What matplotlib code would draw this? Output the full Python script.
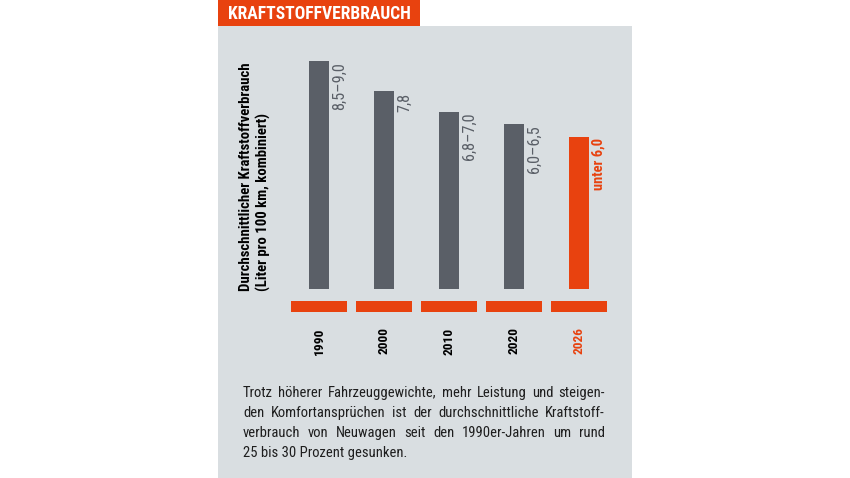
import warnings
import logging
import matplotlib
matplotlib.use("Agg")
import matplotlib.pyplot as plt
from matplotlib.patches import Rectangle

logging.getLogger("matplotlib.font_manager").setLevel(logging.ERROR)
warnings.filterwarnings("ignore")

# ---- data ----
years = ["1990", "2000", "2010", "2020", "2026"]
values = [9.0, 7.8, 7.0, 6.5, 6.0]          # upper end of each range
value_labels = ["8,5–9,0", "7,8", "6,8–7,0", "6,0–6,5", "unter 6,0"]
title = "KRAFTSTOFFVERBRAUCH"
ylabel_lines = ["Durchschnittlicher Kraftstoffverbrauch", "(Liter pro 100 km, kombiniert)"]
paragraph_lines = [
    "Trotz höherer Fahrzeuggewichte, mehr Leistung und steigen-",
    "den Komfortansprüchen ist der durchschnittliche Kraftstoff-",
    "verbrauch von Neuwagen seit den 1990er-Jahren um rund",
    "25 bis 30 Prozent gesunken.",
]

# ---- style ----
ORANGE = "#e8420f"
GRAY = "#5a5f67"
PANEL = "#d9dee1"
TEXTGRAY = "#5a5f67"
FONT = ["Roboto Condensed", "Archivo Narrow", "Liberation Sans Narrow", "DejaVu Sans"]

W, H = 850, 478
fig = plt.figure(figsize=(W / 100, H / 100), dpi=100)
fig.patch.set_facecolor("white")
renderer = fig.canvas.get_renderer()


def fx(px):
    return px / W


def fy(py):
    return 1 - py / H


def fit(t, target, rotated=False):
    """scale a text's font size so that its length matches target pixels"""
    bb = t.get_window_extent(renderer)
    cur = bb.height if rotated else bb.width
    t.set_fontsize(t.get_fontsize() * target / cur)
    return t


# panel and title box
fig.add_artist(Rectangle((fx(218), fy(478)), fx(632) - fx(218), fy(26) - fy(478),
                         transform=fig.transFigure, facecolor=PANEL, edgecolor="none", zorder=0))
fig.add_artist(Rectangle((fx(218), fy(26)), fx(420) - fx(218), fy(0) - fy(26),
                         transform=fig.transFigure, facecolor=ORANGE, edgecolor="none", zorder=1))
tt = fig.text(fx(228), fy(19), title, color="white", fontsize=12, fontweight="bold",
              family=FONT, ha="left", va="baseline", zorder=2)
fit(tt, 183)

# bars axes: baseline at y=289px, top (9.0) at y=61px; centers 319..579
left_px, right_px = 286.5, 611.5
ax = fig.add_axes([fx(left_px), fy(289), fx(right_px) - fx(left_px), (289 - 61) / H])
ax.set_xlim(-0.5, len(years) - 0.5)
ax.set_ylim(0, 9.0)
ax.axis("off")
ax.patch.set_alpha(0)

unit = (289 - 61) / 9.0  # px per unit
xs = list(range(len(years)))
colors = [GRAY] * (len(years) - 1) + [ORANGE]
ax.bar(xs, values, width=0.3, color=colors, clip_on=False, zorder=3)

# orange base segments under each bar
seg_top = -(301 - 289) / unit
seg_bot = -(312 - 289) / unit
ax.bar(xs, [seg_top - seg_bot] * len(xs), bottom=seg_bot, width=0.86, color=ORANGE,
       clip_on=False, zorder=3)

# value labels
label_len = [48, 18, 48, 48, 52]
vl = []
for i, (v, lab) in enumerate(zip(values, value_labels)):
    last = i == len(values) - 1
    t = ax.text(i + 0.15 + 3 / 65, v - 1 / unit, lab, rotation=90, ha="left", va="top",
                fontsize=11, family=FONT, fontweight="bold" if last else "normal",
                color=ORANGE if last else TEXTGRAY, clip_on=False)
    vl.append(t)
fit(vl[0], 48, rotated=True)
for t in vl[1:4]:
    t.set_fontsize(vl[0].get_fontsize())
fit(vl[4], 52, rotated=True)

# year labels
yl = []
for i, y in enumerate(years):
    last = i == len(years) - 1
    t = ax.text(i, -(341 - 289) / unit, y, rotation=90, ha="center", va="center",
                fontsize=11, family=FONT, fontweight="bold",
                color=ORANGE if last else "black", clip_on=False)
    yl.append(t)
fit(yl[0], 27, rotated=True)
for t in yl[1:]:
    t.set_fontsize(yl[0].get_fontsize())

# y label (two rotated lines, bottom-aligned)
t1 = fig.text(fx(246), fy(291), ylabel_lines[0], rotation=90, ha="center", va="bottom",
              fontsize=11, family=FONT, fontweight="bold", color="black")
fit(t1, 227, rotated=True)
t2 = fig.text(fx(263), fy(291), ylabel_lines[1], rotation=90, ha="center", va="bottom",
              fontsize=t1.get_fontsize(), family=FONT, fontweight="bold", color="black")

# paragraph with justification
x0, x1 = 243, 605
baselines = [397, 417, 437, 457]
probe = fig.text(fx(x0), fy(baselines[-1]), paragraph_lines[-1], fontsize=10,
                 family=FONT, ha="left", va="baseline", color="#1e1e1e")
fit(probe, 163)
fs = probe.get_fontsize()
for li, (line, by) in enumerate(zip(paragraph_lines[:-1], baselines[:-1])):
    words = line.split(" ")
    txts, widths = [], []
    for w in words:
        t = fig.text(0, 0, w, fontsize=fs, family=FONT, ha="left", va="baseline",
                     color="#1e1e1e")
        txts.append(t)
        widths.append(t.get_window_extent(renderer).width)
    gap = (x1 - x0 - sum(widths)) / (len(words) - 1)
    cur = x0
    for t, wd in zip(txts, widths):
        t.set_position((fx(cur), fy(by)))
        cur += wd + gap

fig.savefig("out.png", dpi=100, facecolor="white")
